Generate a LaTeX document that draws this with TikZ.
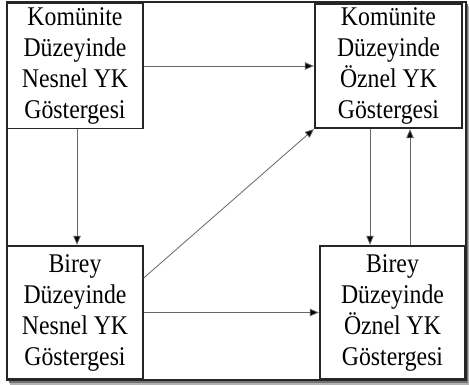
\documentclass[tikz,border=0pt]{standalone}
\usepackage{fontspec}
\setmainfont{Liberation Serif}[FakeStretch=0.88]
\usetikzlibrary{arrows.meta}
\begin{document}
\begin{tikzpicture}[x=1pt,y=-1pt,
  box/.style={draw=black!85,line width=1.4pt,fill=white,inner sep=0pt,
    align=center,font=\fontsize{27}{31}\selectfont},
  link/.style={draw=black!60,line width=0.8pt,
    -{Triangle[length=9pt,width=7.5pt,fill=black]},shorten >=0.5pt}]
  \useasboundingbox (0,0) rectangle (469,385);
  % outer frame with soft shadow
  \fill[black!30] (10,6) rectangle (469,385);
  \fill[black!55] (9,4) rectangle (468,383);
  \draw[line width=1.4pt,draw=black!85,fill=white] (7,2) rectangle (466,380);
  % indicator boxes
  \node[box,minimum width=136pt,minimum height=125pt] (A) at (75,66)
    {Komünite\\Düzeyinde\\Nesnel YK\\Göstergesi};
  \node[box,minimum width=147pt,minimum height=124pt] (B) at (388.5,66)
    {Komünite\\Düzeyinde\\Öznel YK\\Göstergesi};
  \node[box,minimum width=136pt,minimum height=133pt] (C) at (75,312.5)
    {Birey\\Düzeyinde\\Nesnel YK\\Göstergesi};
  \node[box,minimum width=145pt,minimum height=133pt] (D) at (392.5,312.5)
    {Birey\\Düzeyinde\\Öznel YK\\Göstergesi};
  % connectors
  \draw[link] (A.east) -- (B.west);
  \draw[link] ([xshift=2pt]A.south) -- ([xshift=2pt]A.south |- C.north);
  \draw[link] ([yshift=34.5pt]C.east) -- (B.south west);
  \draw[link] (C.east) -- (D.west);
  \draw[link] ([xshift=-18.5pt]B.south) -- ([xshift=-18.5pt]B.south |- D.north);
  \draw[link] ([xshift=17.5pt]D.north) -- ([xshift=17.5pt]D.north |- B.south);
\end{tikzpicture}
\end{document}
